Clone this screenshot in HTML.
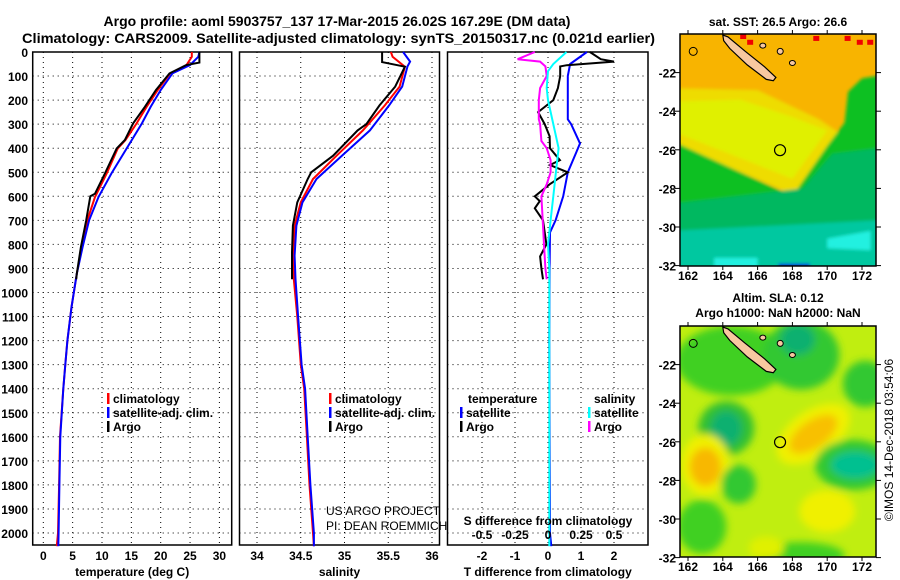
<!DOCTYPE html>
<html><head><meta charset="utf-8">
<style>
html,body{margin:0;padding:0;background:#fff;}
svg{display:block;font-family:"Liberation Sans",Arial,sans-serif;font-weight:bold;}
</style></head>
<body>
<svg id="fig" width="900" height="580" viewBox="0 0 900 580" xmlns="http://www.w3.org/2000/svg">
<defs>
  <filter id="blur6" x="-20%" y="-20%" width="140%" height="140%"><feGaussianBlur stdDeviation="4"/></filter>
  <filter id="blur2"><feGaussianBlur stdDeviation="1.5"/></filter>
  <clipPath id="clipTop"><rect x="680" y="34" width="196" height="232"/></clipPath>
  <clipPath id="clipBot"><rect x="680" y="326" width="196" height="231"/></clipPath>
</defs>
<text x="337" y="26" font-size="14" text-anchor="middle">Argo profile: aoml 5903757_137 17-Mar-2015 26.02S 167.29E (DM data)</text>
<text x="22" y="43" font-size="14" textLength="633" lengthAdjust="spacingAndGlyphs">Climatology: CARS2009. Satellite-adjusted climatology: synTS_20150317.nc (0.021d earlier)</text>
<g id="p1"></g>
<g id="p2"></g>
<g id="p3"></g>
<g id="m1"></g>
<g id="m2"></g>
<text font-size="12" font-weight="normal" transform="translate(893,440) rotate(-90)" text-anchor="middle">©IMOS 14-Dec-2018 03:54:06</text>
</svg>
<script>
// ---- Temperature profiles (depth m, deg C)
const tClimDepth = [0,20,54,89,158,228,297,366,401,505,603,700,811,922,1061,1200,1300,1400,1600,1800,2000,2055];
const tClimVal   = [25.3,25.3,24.4,21.6,19.5,17.6,15.9,14.0,12.7,10.8,8.8,7.5,6.6,5.7,4.8,4.1,3.75,3.4,2.85,2.7,2.5,2.3];
const tSatDepth  = [0,20,54,89,158,228,297,401,505,603,700,811,922,1061,1200,1300,1400,1600,1800,2000,2055];
const tSatVal    = [26.6,26.4,25.0,22.0,20.0,18.3,16.8,14.2,11.6,9.4,7.8,6.7,5.7,4.8,4.1,3.75,3.4,2.9,2.75,2.6,2.55];
const tArgoDepth = [0,44,54,89,158,228,297,366,401,505,589,600,700,811,922,945];
const tArgoVal   = [26.6,26.6,24.4,21.5,19.2,17.3,15.3,13.9,12.5,10.5,8.8,8.0,7.3,6.4,5.7,5.6];
// ---- Salinity profiles
const sClimDepth = [0,20,61,144,222,326,431,528,625,722,847,944,1100,1300,1400,1600,1800,2000,2055];
const sClimVal   = [35.53,35.55,35.69,35.63,35.46,35.21,34.91,34.64,34.50,34.43,34.41,34.42,34.46,34.50,34.54,34.57,34.60,34.64,34.65];
const sSatDepth  = [0,40,60,144,222,326,431,528,625,722,847,944,1100,1300,1400,1600,1800,2000,2055];
const sSatVal    = [35.67,35.75,35.72,35.66,35.51,35.29,34.97,34.68,34.52,34.45,34.43,34.44,34.47,34.51,34.55,34.58,34.61,34.65,34.65];
const sArgoDepth = [0,42,61,144,222,300,326,431,500,528,625,722,833,945];
const sArgoVal   = [35.43,35.43,35.69,35.58,35.40,35.25,35.15,34.87,34.62,34.58,34.46,34.41,34.40,34.40];
// ---- Differences from climatology
const dTSatDepth = [0,50,100,280,300,380,420,500,600,700,750,900,1200,1600,2000,2055];
const dTSatVal   = [1.18,0.67,0.6,0.6,0.7,0.97,0.85,0.6,0.46,0.23,0.06,0.05,0.04,0.05,0.06,0.1];
const dTArgoDepth= [0,30,40,55,60,100,150,200,250,300,350,400,450,470,500,550,600,620,650,700,800,850,900,945];
const dTArgoVal  = [1.27,1.6,2.0,0.57,0.37,0.37,0.3,0.16,-0.3,-0.1,0.05,0.06,0.36,0.06,0.6,0.05,-0.4,-0.25,-0.4,-0.15,-0.05,-0.24,-0.2,-0.15];
const dSArgoDepth= [0,30,40,60,100,150,200,280,300,370,400,450,500,550,600,700,800,900,945];
const dSArgoVal  = [-0.1,-0.23,-0.06,-0.02,-0.01,-0.06,-0.07,-0.07,-0.06,-0.05,-0.01,0.02,0.02,-0.01,-0.05,-0.04,-0.03,-0.02,-0.01];
const dSSatDepth = [0,50,80,150,200,300,400,500,600,700,800,900,1200,1600,2000,2055];
const dSSatVal   = [0.14,0.04,0.0,-0.01,0.0,0.04,0.08,0.06,0.04,0.02,0.0,0.01,0.01,0.01,0.01,0.01];
const depthTicks = [0,100,200,300,400,500,600,700,800,900,1000,1100,1200,1300,1400,1500,1600,1700,1800,1900,2000];
const tTicks = [0,5,10,15,20,25,30];
const sTicks = [34,34.5,35,35.5,36];
const dTicks = [-2,-1,0,1,2];
const dSTicks = [-0.5,-0.25,0,0.25,0.5];
const dSTickLabels = ["-0.5","-0.25","0","0.25","0.5"];
const latTicks = [-22,-24,-26,-28,-30,-32];
const lonTicks = [162,164,166,168,170,172];

const NS="http://www.w3.org/2000/svg";
function mk(parent,tag,attrs,text){const e=document.createElementNS(NS,tag);for(const k in attrs)e.setAttribute(k,attrs[k]);if(text!==undefined)e.textContent=text;parent.appendChild(e);return e;}
const Y=d=>52+d*0.2405;

function panel(g,x0,x1,xs,ticks,labels,title,showDepth){
  const top=52,bot=545;
  depthTicks.forEach(d=>{
    const l=mk(g,'line',{x1:x0,x2:x1,y1:Y(d),y2:Y(d),stroke:'#000','stroke-width':1,'stroke-dasharray':'1,4'});
    
    
    if(showDepth){
      const t=mk(g,'text',{x:28,y:Y(d)+5,'font-size':12,'text-anchor':'end'},String(d));
      
      
    }
  });
  ticks.forEach((v,i)=>{
    const l=mk(g,'line',{x1:xs(v),x2:xs(v),y1:top,y2:bot,stroke:'#000','stroke-width':1,'stroke-dasharray':'1,4'});
    
    
    const t=mk(g,'text',{x:xs(v),y:560,'font-size':12,'text-anchor':'middle'},labels[i]);
    
    
  });
  const r=mk(g,'rect',{x:x0,y:top,width:x1-x0,height:bot-top,fill:'none',stroke:'#000','stroke-width':1.5});
  
  
  const tt=mk(g,'text',{x:(x0+x1)/2,y:576,'font-size':12,'text-anchor':'middle'},title);
  
  
}
function line(g,ds,vs,xs,color,name,w){
  const pts=ds.map((d,i)=>xs(vs[i]).toFixed(1)+','+Y(d).toFixed(1)).join(' ');
  const p=mk(g,'polyline',{points:pts,fill:'none',stroke:color,'stroke-width':w||2,'stroke-linejoin':'miter'});
  
  
}
function legend(g,x,y,color,label,name){
  const m=mk(g,'rect',{x:x,y:y-10,width:2.5,height:11,fill:color});
  
  
  const t=mk(g,'text',{x:x+6,y:y,'font-size':12},label);
  
  
}
// Panel 1
const p1=document.getElementById('p1');
const xT=v=>43.3+v*5.87;
panel(p1,32.7,231.7,xT,tTicks,tTicks.map(String),'temperature (deg C)',true);
line(p1,tClimDepth,tClimVal,xT,'#ff0000','temp-climatology-line');
line(p1,tSatDepth,tSatVal,xT,'#0000ff','temp-satellite-line');
line(p1,tArgoDepth,tArgoVal,xT,'#000000','temp-argo-line');
legend(p1,107,403,'#ff0000','climatology','legend-climatology');
legend(p1,107,417,'#0000ff','satellite-adj. clim.','legend-satellite');
legend(p1,107,431,'#000000','Argo','legend-argo');
// Panel 2
const p2=document.getElementById('p2');
const xS=v=>257+(v-34)*87.5;
panel(p2,239.5,439.5,xS,sTicks,["34","34.5","35","35.5","36"],'salinity',false);
line(p2,sClimDepth,sClimVal,xS,'#ff0000','sal-climatology-line');
line(p2,sSatDepth,sSatVal,xS,'#0000ff','sal-satellite-line');
line(p2,sArgoDepth,sArgoVal,xS,'#000000','sal-argo-line');
legend(p2,329,403,'#ff0000','climatology','legend-climatology');
legend(p2,329,417,'#0000ff','satellite-adj. clim.','legend-satellite');
legend(p2,329,431,'#000000','Argo','legend-argo');
[["US ARGO PROJECT",515],["PI: DEAN ROEMMICH",530]].forEach(a=>{
  const t=mk(p2,'text',{x:326,y:a[1],'font-size':12,'font-weight':'normal'},a[0]);
  
  
});
// Panel 3
const p3=document.getElementById('p3');
const xD=v=>548+v*33;
const xDS=v=>548+v*132;
panel(p3,447.5,648,xD,dTicks,dTicks.map(String),'T difference from climatology',false);
line(p3,dTSatDepth,dTSatVal,xD,'#0000ff','temp-diff-satellite-line');
line(p3,dTArgoDepth,dTArgoVal,xD,'#000000','temp-diff-argo-line');
line(p3,dSArgoDepth,dSArgoVal,xDS,'#ff00ff','sal-diff-argo-line');
line(p3,dSSatDepth,dSSatVal,xDS,'#00ffff','sal-diff-satellite-line');
{const t=mk(p3,'text',{x:468,y:403,'font-size':12},'temperature');}
{const t=mk(p3,'text',{x:594,y:403,'font-size':12},'salinity');}
legend(p3,460,417,'#0000ff','satellite','legend-temp-satellite');
legend(p3,460,431,'#000000','Argo','legend-temp-argo');
legend(p3,588,417,'#00ffff','satellite','legend-sal-satellite');
legend(p3,588,431,'#ff00ff','Argo','legend-sal-argo');
{const t=mk(p3,'text',{x:548,y:525,'font-size':12,'text-anchor':'middle'},'S difference from climatology');}
dSTicks.forEach((v,i)=>{const t=mk(p3,'text',{x:xDS(v),y:539,'font-size':12,'text-anchor':'middle'},dSTickLabels[i]);
  
  });

// Maps
function mapAxes(g,top,bot,lat0){
  const X=lon=>688+(lon-162)*17.4, Yl=lat=>top+(lat0-lat)*19.3;
  latTicks.forEach(l=>{
    mk(g,'line',{x1:675,x2:680,y1:Yl(l),y2:Yl(l),stroke:'#000'});
    mk(g,'line',{x1:876,x2:881,y1:Yl(l),y2:Yl(l),stroke:'#000'});
    const t=mk(g,'text',{x:676,y:Yl(l)+5,'font-size':12,'text-anchor':'end'},String(l));
    
    
  });
  lonTicks.forEach(l=>{
    mk(g,'line',{x1:X(l),x2:X(l),y1:top-4,y2:top,stroke:'#000'});
    mk(g,'line',{x1:X(l),x2:X(l),y1:bot,y2:bot+4,stroke:'#000'});
    const t=mk(g,'text',{x:X(l),y:bot+14,'font-size':12,'text-anchor':'middle'},String(l));
    
    
  });
  mk(g,'rect',{x:680,y:top,width:196,height:bot-top,fill:'none',stroke:'#000','stroke-width':1.5});
  return [X,Yl];
}
function poly(g,pts,X,Yl,fill,extra){const p=mk(g,'polygon',Object.assign({points:pts.map(a=>X(a[0]).toFixed(1)+','+Yl(a[1]).toFixed(1)).join(' '),fill:fill},extra||{}));return p;}
function island(g,X,Yl){
  const isl=poly(g,[[164.0,-20.05],[164.3,-20.15],[165.3,-20.9],[166.4,-21.7],[167.05,-22.25],[166.9,-22.42],[166.5,-22.35],[165.4,-21.6],[164.4,-20.75],[164.05,-20.35]],X,Yl,'#f8c8a0',{stroke:'#000','stroke-width':1.2});
  
  
  mk(g,'ellipse',{cx:X(162.3),cy:Yl(-20.9),rx:4,ry:4,fill:'none',stroke:'#000'});
  mk(g,'ellipse',{cx:X(166.3),cy:Yl(-20.6),rx:3,ry:2.5,fill:'#f8c8a0',stroke:'#000'});
  mk(g,'ellipse',{cx:X(167.3),cy:Yl(-20.9),rx:3,ry:3,fill:'#f8c8a0',stroke:'#000'});
  mk(g,'ellipse',{cx:X(168.0),cy:Yl(-21.5),rx:3,ry:2.5,fill:'#f8c8a0',stroke:'#000'});
  const c=mk(g,'circle',{cx:X(167.29),cy:Yl(-26.02),r:5.5,fill:'none',stroke:'#000','stroke-width':1.2});
  
  
}
// Top SST map
const m1=document.getElementById('m1');
{const t=mk(m1,'text',{x:778,y:26,'font-size':12,'text-anchor':'middle'},'sat. SST: 26.5 Argo: 26.6');}
const g1=mk(m1,'g',{'clip-path':'url(#clipTop)'});
const Xm=lon=>688+(lon-162)*17.4, Y1=lat=>34+(-20-lat)*19.3, Y2=lat=>326+(-20-lat)*19.3;
mk(g1,'rect',{x:680,y:34,width:196,height:232,fill:'#f8b400'});
const g1b=mk(g1,'g',{filter:'url(#blur2)'});
poly(g1b,[[161,-22.8],[166,-22.9],[169.5,-24.4],[171,-25.3],[168,-28.3],[161,-25.6]],Xm,Y1,'#eedc00');
poly(g1b,[[161,-23.5],[165,-23.4],[168,-24.3],[170,-25],[168,-27.5],[161,-25]],Xm,Y1,'#e0f000');
poly(g1b,[[161,-25.5],[168,-28.4],[170,-25.8],[171,-24.6],[171.2,-23],[172,-22.3],[174,-22],[174,-33],[161,-33]],Xm,Y1,'#10c020');
poly(g1b,[[168.6,-28],[170.3,-26.2],[174,-25.8],[174,-33],[161,-33],[161,-28.8]],Xm,Y1,'#00b860');
poly(g1b,[[161,-30.2],[174,-29.6],[174,-33],[161,-33]],Xm,Y1,'#00c8a0');
poly(g1b,[[163.5,-31.6],[166,-31.6],[166,-32.2],[163.5,-32.2]],Xm,Y1,'#20f0e0');
poly(g1b,[[170,-30.6],[172.5,-30.2],[172.5,-31.2],[170,-31.1]],Xm,Y1,'#20f0e0');
poly(g1b,[[167.2,-31.9],[169,-31.9],[169,-32.2],[167.2,-32.2]],Xm,Y1,'#0000e0');
[[165,-20],[165.4,-20.3],[171,-20.1],[172.3,-20.3],[169.2,-20.1],[171.7,-20.3]].forEach(a=>mk(g1,'rect',{x:Xm(a[0]),y:Y1(a[1]),width:6,height:5,fill:'#f00000'}));
island(g1,Xm,Y1);
mapAxes(m1,34,266,-20);
// Bottom SLA map
const m2=document.getElementById('m2');
{const t=mk(m2,'text',{x:778,y:302,'font-size':12,'text-anchor':'middle'},'Altim. SLA: 0.12');}
{const t=mk(m2,'text',{x:778,y:317,'font-size':12,'text-anchor':'middle'},'Argo h1000: NaN h2000: NaN');}
const g2=mk(m2,'g',{'clip-path':'url(#clipBot)'});
mk(g2,'rect',{x:680,y:326,width:196,height:231,fill:'#c0ee10'});
const g2b=mk(g2,'g',{filter:'url(#blur6)'});
const E=(lon,lat,rx,ry,fill,rot)=>mk(g2b,'ellipse',{cx:Xm(lon),cy:Y2(lat),rx:rx*17.4,ry:ry*19.3,fill:fill,transform:'rotate('+(rot||0)+' '+Xm(lon)+' '+Y2(lat)+')'});
E(164.5,-21.8,3.2,1.8,'#40d020');
E(168.5,-21.5,2.2,1.8,'#30c830');
E(168.3,-20.7,1.0,0.8,'#10b070');
E(164.2,-25.3,1.6,1.4,'#30c030');
E(164.2,-25.3,0.9,0.9,'#10b070');
E(172.2,-23,1.3,1.2,'#30c830');
E(169.2,-25.6,2.4,1.2,'#f0f000',-35);
E(169.2,-25.6,1.6,0.7,'#f8c000',-35);
E(163,-27.2,1.4,1.6,'#f0f000');
E(163,-27.3,0.9,1.0,'#f8b800');
E(171.5,-27.2,2.2,1.3,'#30c830');
E(171.6,-27.2,1.4,0.7,'#00c090');
E(164.9,-28.2,1.0,1.0,'#30c830');
E(162.8,-30.4,1.4,1.4,'#40d020');
E(168.5,-31.9,2.5,0.7,'#40d020');
E(170,-29.6,1.6,1.1,'#f0f000');
E(166.5,-31.5,1.0,0.6,'#e0f000');
island(g2,Xm,Y2);
mapAxes(m2,326,557,-20);
</script>
</body></html>
